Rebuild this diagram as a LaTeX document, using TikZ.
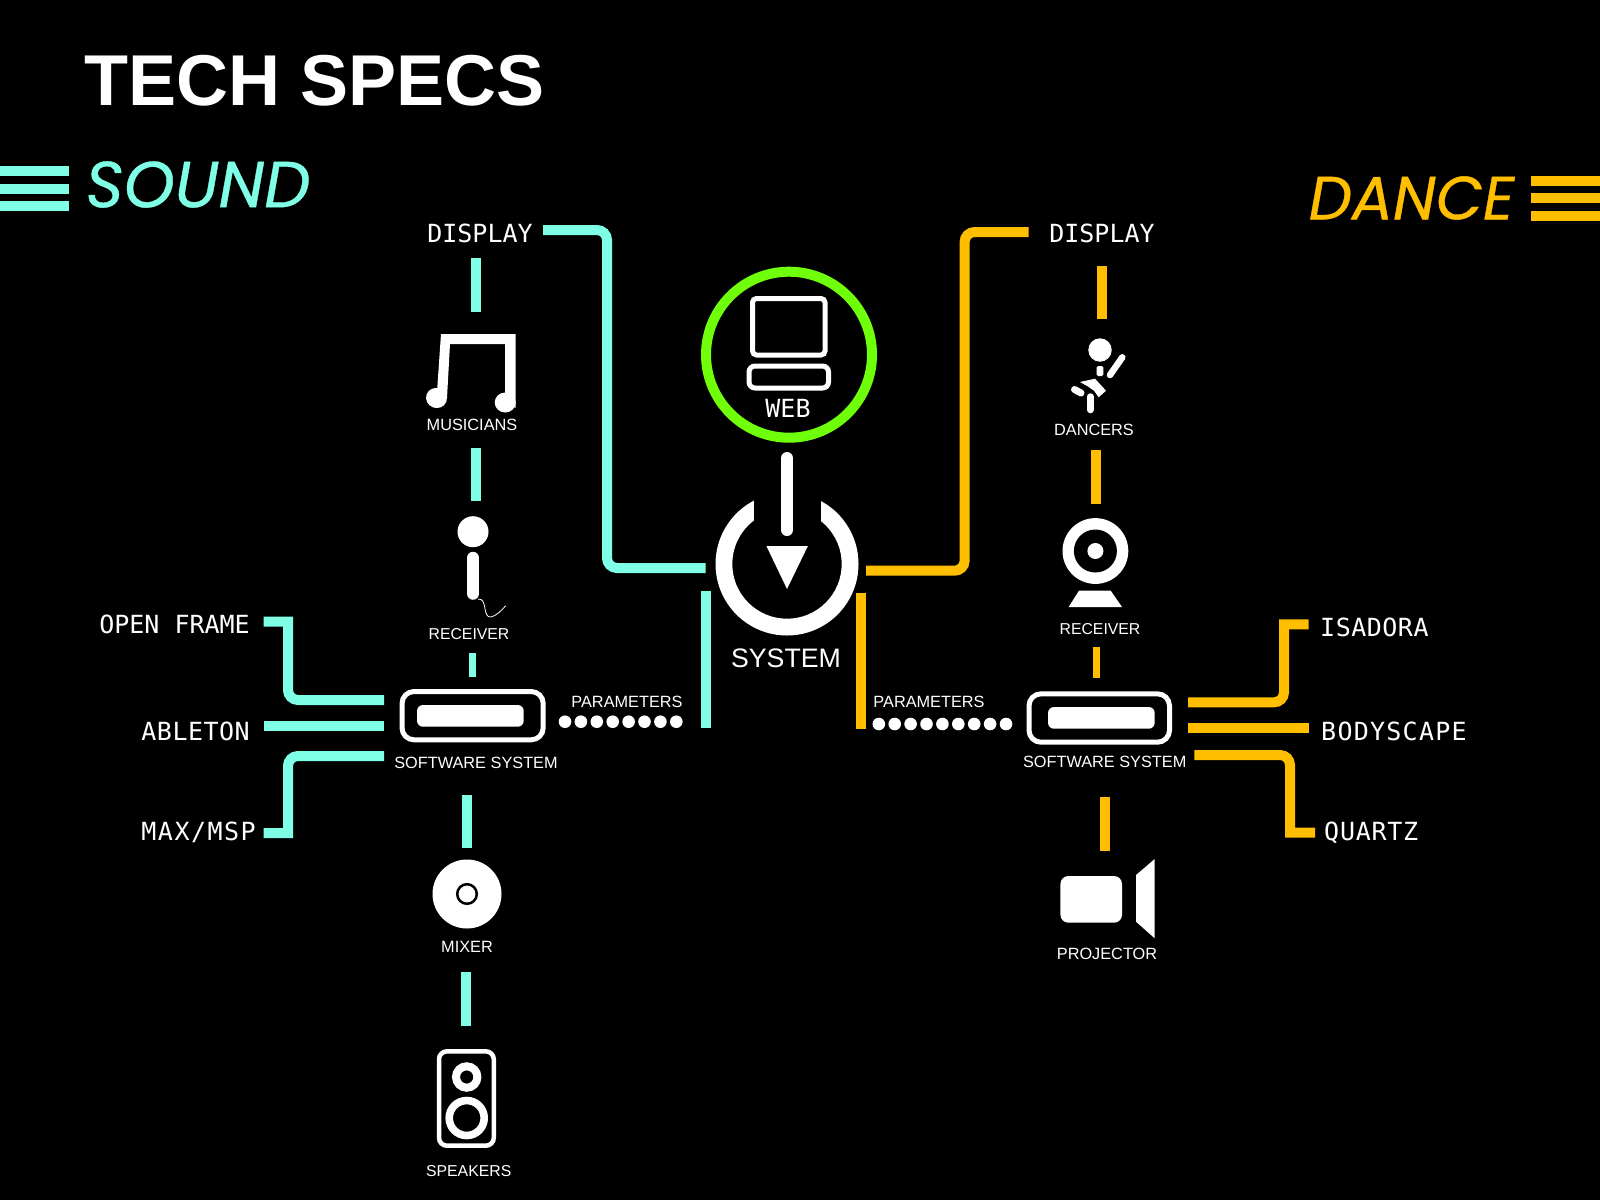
\documentclass[tikz,border=0pt]{standalone}
\usepackage{fontspec}
\setmainfont{Liberation Sans}
\newfontfamily\lcdfont{DejaVu Sans Mono}
\newfontfamily\sidefont[FakeBold=0.6]{Poppins}
\definecolor{soundcol}{HTML}{7FFFE5}
\definecolor{dancecol}{HTML}{FFBF00}
\definecolor{webcol}{HTML}{6FFF0A}
\tikzset{
  soundline/.style={draw=soundcol, line width=10pt},
  danceline/.style={draw=dancecol, line width=10pt},
  icon/.style={draw=white, line width=5pt},
  caption/.style={text=white, inner sep=0pt, font=\fontsize{16.3}{18}\selectfont},
  smallcaption/.style={caption, font=\fontsize{15.8}{18}\selectfont},
  lcd/.style={text=white, inner sep=0pt, font=\lcdfont\fontsize{25}{27}\selectfont},
  lcdwide/.style={lcd, font=\lcdfont\addfontfeature{LetterSpace=#1}\fontsize{25}{27}\selectfont},
  side/.style={inner sep=0pt, font=\sidefont\itshape\fontsize{#1}{64}\selectfont}
}

\begin{document}
\begin{tikzpicture}[x=1pt, y=-1pt]
  \fill[black] (0,0) rectangle (1600,1200);
  \useasboundingbox (0,0) rectangle (1600,1200);

  \node[text=white, inner sep=0pt, font=\bfseries\fontsize{72}{74}\selectfont] (title) at (315,80.5) {TECH SPECS};
  \node[side=65, text=soundcol] (sound) at (198,184.5) {SOUND};
  \node[side=61, text=dancecol] (dance) at (1411.5,198) {DANCE};
  \foreach \y in {171,189,206} \draw[soundline] (0,\y) -- (68.6,\y);
  \foreach \y in {181,198,216} \draw[danceline] (1530.6,\y) -- (1600,\y);

  \node[lcd] (sdisplay) at (480,233) {DISPLAY};
  \node[caption] (musicians) at (472,424.7) {MUSICIANS};
  \node[smallcaption] (sreceiver) at (469,633.7) {RECEIVER};
  \node[caption] (ssoftware) at (476,762.7) {SOFTWARE SYSTEM};
  \node[caption] (sparams) at (627,701.7) {PARAMETERS};
  \node[caption] (mixer) at (467,946.7) {MIXER};
  \node[smallcaption] (speakers) at (468.7,1170.7) {SPEAKERS};
  \node[lcd, anchor=east] (openframe) at (250,624) {OPEN FRAME};
  \node[lcdwide=2, anchor=east] (ableton) at (250,731) {ABLETON};
  \node[lcdwide=6, anchor=east] (maxmsp) at (256,832) {MAX/MSP};

  \node[lcd] (ddisplay) at (1102,233) {DISPLAY};
  \node[caption] (dancers) at (1094,429.7) {DANCERS};
  \node[smallcaption] (dreceiver) at (1100,628.7) {RECEIVER};
  \node[caption] (dsoftware) at (1104.7,761.7) {SOFTWARE SYSTEM};
  \node[caption] (dparams) at (929,701.7) {PARAMETERS};
  \node[caption] (projector) at (1107,953.7) {PROJECTOR};
  \node[lcdwide=2, anchor=west] (isadora) at (1320,627) {ISADORA};
  \node[lcdwide=5, anchor=west] (bodyscape) at (1321,731) {BODYSCAPE};
  \node[lcdwide=3, anchor=west] (quartz) at (1324,832.5) {QUARTZ};

  \node[lcd] (web) at (788,408) {WEB};
  \node[caption, font=\fontsize{26.7}{28}\selectfont] (system) at (786,658) {SYSTEM};

  \coordinate (webc) at (789,354.7);
  \coordinate (sysc) at (787,564);
  \draw[draw=webcol, line width=10pt] (webc) circle (83pt);
  \draw[icon, rounded corners=4pt] (752.5,298.5) rectangle (825,355);
  \draw[icon, rounded corners=6pt] (749,366) rectangle (828.5,388);
  \fill[white, even odd rule] (sysc) circle (71.5pt) (sysc) circle (54.7pt);
  \fill[black] (753.6,480) rectangle (821,540);
  \draw[white, line width=12pt, line cap=round] (787,458) -- (787,530);
  \fill[white] (766.4,546) -- (807.9,546) -- (787,589) -- cycle;

  \fill[white] (441,334) -- (515.5,334) -- (515.5,408) -- (505,400) -- (505,344) -- (450,344) -- (447,398) -- (437,392) -- cycle;
  \fill[white, rotate around={-20:(436.5,398)}] (436.5,398) ellipse (10.5pt and 10pt);
  \fill[white] (505.2,402.5) ellipse (10.5pt and 10pt);

  \fill[white] (473,531.7) circle (15.5pt);
  \draw[white, line width=12.5pt, line cap=round] (473,558) -- (473,593.5);
  \draw[white, line width=.8pt] (478,599) .. controls (488,598) and (482,618) .. (491,617) .. controls (496,616) and (502,610) .. (505.7,605.7);

  \draw[icon, rounded corners=12pt] (402,691.5) rectangle (543.2,739.8);
  \fill[white, rounded corners=6pt] (417,705) rectangle (523.7,726.7);
  \foreach \i in {0,...,7} \fill[white] ({565+15.9*\i},721.7) circle (6.3pt);

  \fill[white] (467,894) circle (34.5pt);
  \draw[black, line width=2.5pt] (467,894) circle (9.8pt);

  \draw[icon, line width=4.5pt, rounded corners=8pt] (439,1051.3) rectangle (493.8,1145.7);
  \draw[white, line width=8pt] (466.7,1077) circle (10.7pt);
  \draw[white, line width=7.6pt] (466.7,1118) circle (17.5pt);

  \fill[white] (1100,350) circle (11.7pt);
  \fill[white, rounded corners=1.5pt] (1096.7,366) rectangle (1103.3,376);
  \draw[white, line width=6.5pt, line cap=round] (1110,375) -- (1122.3,357.3);
  \fill[white] (1080,382) -- (1095,378.7) -- (1106,390.7) -- (1098.7,397.3) -- (1094,390.7) -- (1088.3,386.7) -- cycle;
  \draw[white, line width=7pt, line cap=round] (1074.5,389.5) -- (1081,393);
  \draw[white, line width=6.5pt, line cap=round] (1090.3,396.5) -- (1090.3,410);

  \fill[white] (1095.4,551) circle (32.9pt);
  \fill[black] (1095.4,551) circle (21.5pt);
  \fill[white] (1095.4,551) circle (8pt);
  \fill[white] (1079,590.7) -- (1110.7,590.7) -- (1122,607) -- (1068.6,607) -- cycle;

  \draw[icon, rounded corners=12pt] (1029,693.8) rectangle (1169.5,742.2);
  \fill[white, rounded corners=6pt] (1048,707) rectangle (1154.7,728.7);
  \foreach \i in {0,...,8} \fill[white] ({878.8+15.9*\i},724) circle (6.3pt);

  \fill[white, rounded corners=8pt] (1060.4,876) rectangle (1122,922.7);
  \fill[white] (1154.7,859) -- (1136,875) -- (1136,921.7) -- (1154.7,938.3) -- cycle;

  \coordinate (sdispa) at (543,230);
  \coordinate (sdispb) at (607,568);
  \coordinate (sdispc) at (705.7,568);
  \draw[soundline, rounded corners=10pt] (sdispa) -| (sdispb) -- (sdispc);
  \coordinate (ddispa) at (1028.6,232);
  \coordinate (ddispb) at (964.6,570.7);
  \coordinate (ddispc) at (866,570.7);
  \draw[danceline, rounded corners=10pt] (ddispa) -| (ddispb) -- (ddispc);

  \coordinate (sbar1a) at (476,258);
  \coordinate (sbar1b) at (476,312);
  \coordinate (sbar2a) at (476,448);
  \coordinate (sbar2b) at (476,501);
  \coordinate (sbar3a) at (472.5,653);
  \coordinate (sbar3b) at (472.5,677);
  \coordinate (sbar4a) at (467,795);
  \coordinate (sbar4b) at (467,848);
  \coordinate (sbar5a) at (465.7,972);
  \coordinate (sbar5b) at (465.7,1025.7);
  \coordinate (sbar6a) at (705.7,591);
  \coordinate (sbar6b) at (705.7,727.7);
  \draw[soundline] (sbar1a) -- (sbar1b);
  \draw[soundline] (sbar2a) -- (sbar2b);
  \draw[soundline, line width=7pt] (sbar3a) -- (sbar3b);
  \draw[soundline] (sbar4a) -- (sbar4b);
  \draw[soundline] (sbar5a) -- (sbar5b);
  \draw[soundline] (sbar6a) -- (sbar6b);

  \coordinate (dbar1a) at (1101.6,266);
  \coordinate (dbar1b) at (1101.6,319.3);
  \coordinate (dbar2a) at (1096,450);
  \coordinate (dbar2b) at (1096,504);
  \coordinate (dbar3a) at (1096.7,647);
  \coordinate (dbar3b) at (1096.7,678);
  \coordinate (dbar4a) at (1104.5,797);
  \coordinate (dbar4b) at (1104.5,850.7);
  \coordinate (dbar5a) at (861,592.7);
  \coordinate (dbar5b) at (861,729.3);
  \draw[danceline] (dbar1a) -- (dbar1b);
  \draw[danceline] (dbar2a) -- (dbar2b);
  \draw[danceline, line width=7pt] (dbar3a) -- (dbar3b);
  \draw[danceline] (dbar4a) -- (dbar4b);
  \draw[danceline] (dbar5a) -- (dbar5b);

  \coordinate (ofa) at (263.7,621.7);
  \coordinate (ofb) at (288,700);
  \coordinate (ofc) at (384,700);
  \draw[soundline] (ofa) -| (288,650) [rounded corners=10pt] -- (ofb) -- (ofc);
  \coordinate (abla) at (263.7,726);
  \coordinate (ablb) at (384,726);
  \draw[soundline] (abla) -- (ablb);
  \coordinate (maxa) at (384,756);
  \coordinate (maxb) at (288,756);
  \coordinate (maxc) at (263.7,833);
  \draw[soundline, rounded corners=10pt] (maxa) -- (maxb) -- (288,800) [sharp corners] |- (maxc);

  \coordinate (isaa) at (1188,702.3);
  \coordinate (isab) at (1284,702.3);
  \coordinate (isac) at (1308.6,624.3);
  \draw[danceline, rounded corners=10pt] (isaa) -- (isab) -- (1284,660) [sharp corners] |- (isac);
  \coordinate (boda) at (1188,728.3);
  \coordinate (bodb) at (1308.6,728.3);
  \draw[danceline] (boda) -- (bodb);
  \coordinate (quaa) at (1194.3,755);
  \coordinate (quab) at (1290,755);
  \coordinate (quac) at (1315,832.7);
  \draw[danceline, rounded corners=10pt] (quaa) -- (quab) -- (1290,800) [sharp corners] |- (quac);
\end{tikzpicture}
\end{document}
